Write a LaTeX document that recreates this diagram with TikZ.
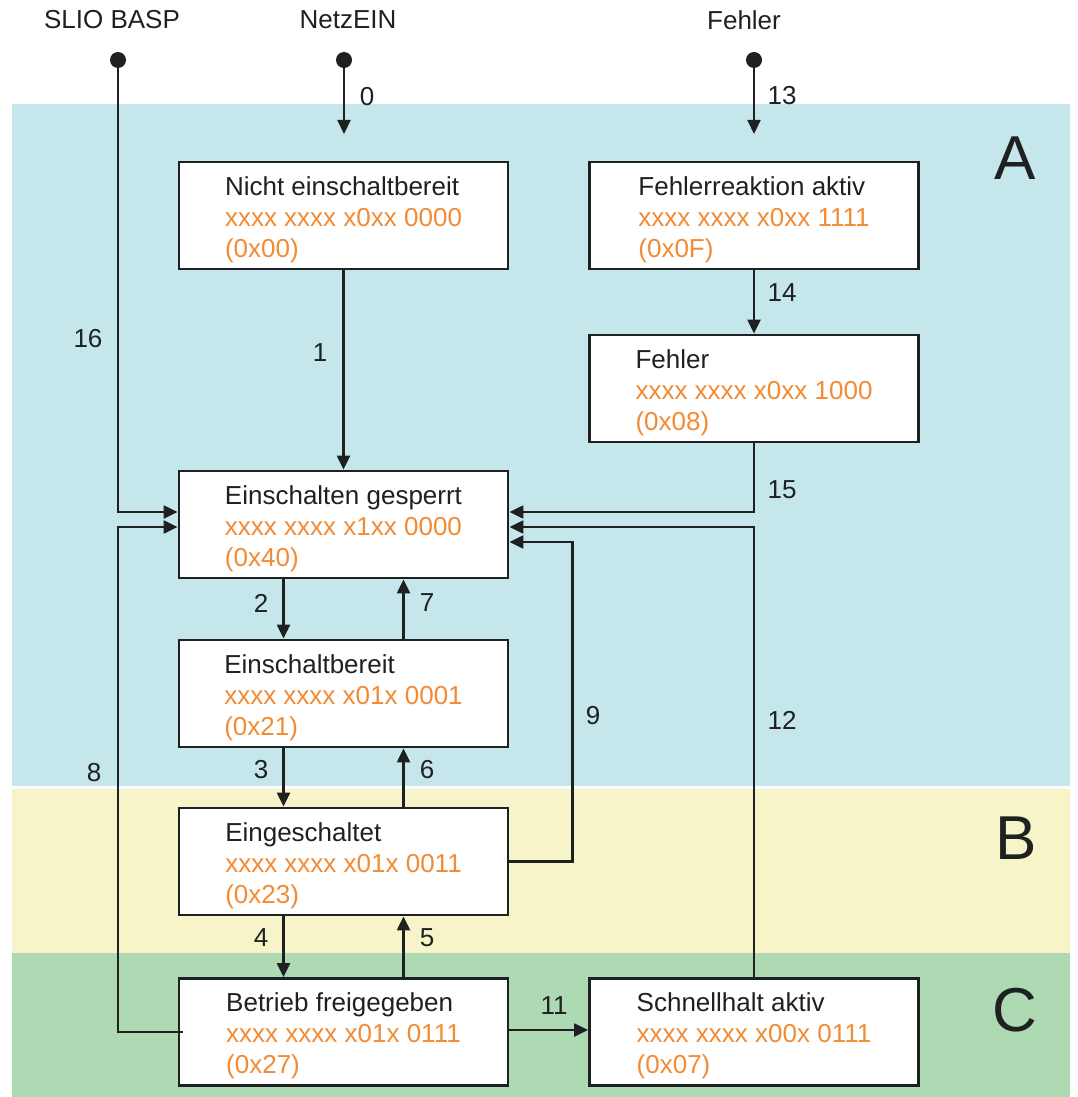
\documentclass[tikz,border=0pt]{standalone}
\usepackage{fontspec}
\setmainfont{Liberation Sans}
\usetikzlibrary{positioning,arrows.meta}

\definecolor{zoneA}{RGB}{197,231,236}
\definecolor{zoneB}{RGB}{247,244,202}
\definecolor{zoneC}{RGB}{173,218,179}
\definecolor{bitorange}{RGB}{242,139,52}
\definecolor{inkdark}{RGB}{30,32,34}

\newcommand{\zw}[1]{\textcolor{bitorange}{#1}}
\newcommand{\statetext}[3]{\rule{0pt}{27pt}#1\\\zw{#2}\\\zw{#3}}

\tikzset{
  statebox/.style={draw=inkdark, line width=2.8pt, fill=white, minimum width=329pt,
    minimum height=107pt, align=left, inner sep=0pt},
  conn/.style={draw=inkdark, line width=2.2pt, -{Triangle[length=14pt,width=13pt]}},
  dot/.style={circle, fill=inkdark, inner sep=0pt, minimum size=16pt},
  zone/.style={font=\fontsize{62}{62}\selectfont, text=inkdark}
}

\begin{document}
\begin{tikzpicture}[x=1pt, y=-1pt, every node/.style={font=\fontsize{26}{31}\selectfont, text=inkdark}]
  \useasboundingbox (0,0) rectangle (1078,1097);

  % zones
  \fill[zoneA] (12,104) rectangle (1070,786);
  \fill[zoneB] (12,789) rectangle (1070,953);
  \fill[zoneC] (12,953) rectangle (1070,1097);
  \node[zone] (zA) at (1015,158) {A};
  \node[zone] (zB) at (1016,838) {B};
  \node[zone] (zC) at (1015,1010) {C};

  % inputs
  \node (tbasp) at (112,20) {SLIO BASP};
  \node (tnetz) at (348,20) {NetzEIN};
  \node (tfehl) at (744,20) {Fehler};
  \node[dot] (basp) at (118,60) {};
  \node[dot] (netz) at (344,60) {};
  \node[dot] (fehl) at (754,60) {};
  \coordinate (netzend) at (344,134);
  \coordinate (fehlend) at (754,134);

  % states
  \node[statebox] (nicht) at (343.5,215.5) {\statetext{Nicht einschaltbereit}{xxxx xxxx x0xx 0000}{(0x00)}};
  \node[statebox] (reakt) at (754,215.5) {\statetext{Fehlerreaktion aktiv}{xxxx xxxx x0xx 1111}{(0x0F)}};
  \node[statebox] (fehler) at (754,388.5) {\statetext{Fehler}{xxxx xxxx x0xx 1000}{(0x08)}};
  \node[statebox] (gesperrt) at (343.5,524.5) {\statetext{Einschalten gesperrt}{xxxx xxxx x1xx 0000}{(0x40)}};
  \node[statebox] (bereit) at (343.5,693.5) {\statetext{Einschaltbereit}{xxxx xxxx x01x 0001}{(0x21)}};
  \node[statebox] (ein) at (343.5,861.5) {\statetext{Eingeschaltet}{xxxx xxxx x01x 0011}{(0x23)}};
  \node[statebox] (betrieb) at (343.5,1032) {\statetext{Betrieb freigegeben}{xxxx xxxx x01x 0111}{(0x27)}};
  \node[statebox] (halt) at (754,1032) {\statetext{Schnellhalt aktiv}{xxxx xxxx x00x 0111}{(0x07)}};

  % transitions
  \draw[conn] (netz) -- (netzend);
  \draw[conn] (fehl) -- (fehlend);
  \draw[conn] (nicht) -- (gesperrt);
  \draw[conn] (reakt) -- (fehler);
  \draw[conn] (fehler.south) |- ([yshift=12.5pt]gesperrt.east);
  \draw[conn] (halt.north) |- ([yshift=-2.5pt]gesperrt.east);
  \draw[conn] (ein.east) -- ++(63,0) |- ([yshift=-17.5pt]gesperrt.east);
  \draw[conn] (basp) |- ([yshift=12.5pt]gesperrt.west);
  \draw[conn] ([xshift=5pt]betrieb.west) -- (betrieb.west -| basp) |- ([yshift=-2.5pt]gesperrt.west);
  \draw[conn] ([xshift=-60pt]gesperrt.south) -- ([xshift=-60pt]bereit.north);
  \draw[conn] ([xshift=60pt]bereit.north) -- ([xshift=60pt]gesperrt.south);
  \draw[conn] ([xshift=-60pt]bereit.south) -- ([xshift=-60pt]ein.north);
  \draw[conn] ([xshift=60pt]ein.north) -- ([xshift=60pt]bereit.south);
  \draw[conn] ([xshift=-60pt]ein.south) -- ([xshift=-60pt]betrieb.north);
  \draw[conn] ([xshift=60pt]betrieb.north) -- ([xshift=60pt]ein.south);
  \draw[conn] ([yshift=2pt]betrieb.east) -- ([yshift=2pt]betrieb.east -| halt.west);

  % transition numbers
  \foreach \t/\x/\y in {0/367/97, 1/320/353, 2/261/603, 3/261/770, 4/261/938, 5/427/938,
      6/427/770, 7/427/603, 8/94/773, 9/593/716, 11/554/1006, 12/782/720,
      13/782/96, 14/782/293, 15/782/490, 16/88/339}
    \node (lab\t) at (\x,\y) {\t};
\end{tikzpicture}
\end{document}
